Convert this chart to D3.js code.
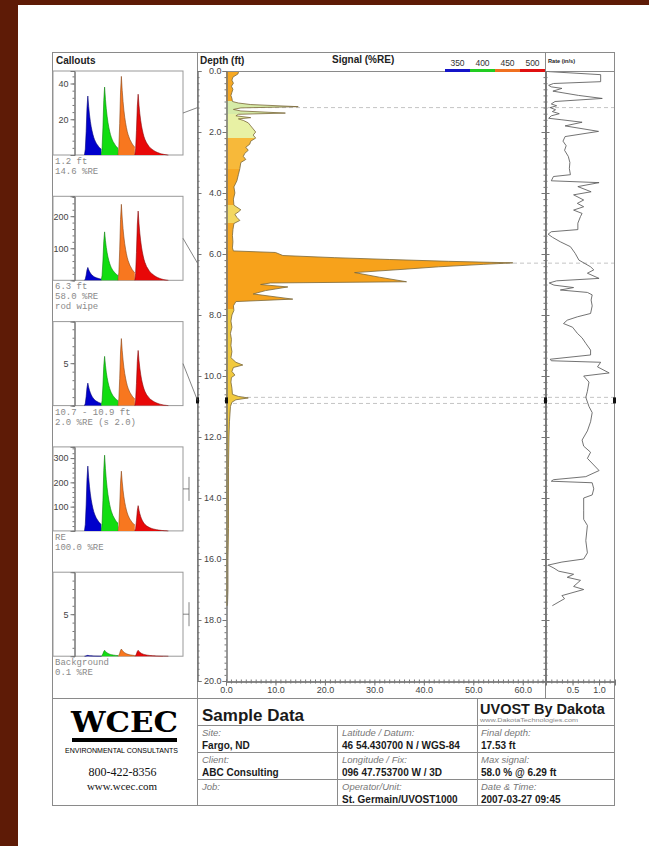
<!DOCTYPE html>
<html>
<head>
<meta charset="utf-8">
<script src="https://cdn.jsdelivr.net/npm/d3@7"></script>
<style>
  body { margin: 0; background: #fff; }
  svg { display: block; font-family: "Liberation Sans", Arial, sans-serif; }
</style>
</head>
<body>
<svg id="chart" width="649" height="846"></svg>
<script>
// signal log: depth (ft) and signal (%RE)
const sigDepth = [0, 0.1, 0.2, 0.3, 0.4, 0.5, 0.6, 0.7, 0.8, 0.9, 1.0, 1.05, 1.1, 1.17, 1.21, 1.26, 1.31, 1.38, 1.42, 1.47,
  1.53, 1.57, 1.62, 1.7, 1.8, 1.9, 2.0, 2.1, 2.2, 2.3, 2.4, 2.5, 2.6, 2.7, 2.8, 2.9, 3.0, 3.2, 3.4, 3.6,
  3.8, 4.0, 4.2, 4.4, 4.55, 4.62, 4.7, 4.8, 4.9, 5.0, 5.2, 5.4, 5.6, 5.8, 5.9, 5.95, 6.05, 6.12, 6.18, 6.24,
  6.29, 6.34, 6.42, 6.5, 6.61, 6.76, 6.91, 6.95, 7.0, 7.08, 7.2, 7.31, 7.48, 7.56, 7.7, 7.85, 8.0, 8.2, 8.4, 8.6,
  8.8, 9.0, 9.2, 9.4, 9.55, 9.64, 9.72, 9.85, 9.97, 10.05, 10.2, 10.4, 10.6, 10.67, 10.72, 10.78, 10.86, 11.0, 11.5, 12.0,
  13.0, 14.0, 15.0, 16.0, 17.0, 17.53];
const sigValue = [2.6, 2.4, 1.4, 1.2, 1.5, 1.1, 1.4, 1.2, 1.0, 1.2, 1.3, 2.5, 5, 14.6, 3, 1.5, 3, 12, 2.5, 2,
  5, 2.5, 3.5, 4.5, 5, 5.5, 6, 5.5, 6, 5, 4.8, 4, 4.5, 3.8, 3.5, 4, 3, 2.8, 2.5, 2.2,
  1.6, 1.8, 1.5, 1.6, 3, 2.5, 1.8, 2.2, 2.8, 1.6, 1.4, 1.3, 1.4, 1.3, 1.5, 10, 11.5, 22, 33, 45,
  58, 52, 43, 36, 26, 31, 36.5, 9, 7, 12.5, 8, 5.5, 13.5, 2, 1.5, 1.6, 1.2, 1.0, 1.2, 0.9,
  1.1, 1.0, 1.2, 1.0, 2, 3.4, 1.5, 1.2, 1.8, 1.1, 1.0, 1.2, 1.3, 2.5, 4.5, 2, 1.2, 0.9, 0.7, 0.6,
  0.5, 0.5, 0.5, 0.4, 0.4, 0.3];

// fill colour of the log by depth band (waveform mix)
const bandDepth = [0, 1.0, 1.4, 2.2, 3.2, 4.4, 5.0, 5.9, 7.8, 20];
const bandColor = ['#f6a823', '#d6eba8', '#e8f1a4', '#f7b93a', '#f6a823', '#f3d760', '#f6a823', '#f7a21b', '#f1c93e'];

// rate of penetration (in/s)
const rateDepth = [0, 0.02, 0.12, 0.35, 0.41, 0.47, 0.52, 0.57, 0.66, 0.8,
  0.9, 1.0, 1.08, 1.14, 1.2, 1.27, 1.33, 1.4, 1.47, 1.55,
  1.6, 1.68, 1.8, 1.98, 2.15, 2.3, 2.45, 2.6, 2.8, 3.0,
  3.2, 3.4, 3.46, 3.6, 3.66, 3.79, 3.96, 4.06, 4.23, 4.34,
  4.45, 4.56, 4.67, 4.77, 4.99, 5.2, 5.27, 5.35, 5.45, 5.6,
  5.76, 5.98, 6.2, 6.42, 6.52, 6.63, 6.8, 6.88, 6.95, 7.02,
  7.1, 7.18, 7.26, 7.34, 7.51, 7.7, 7.95, 8.06, 8.17, 8.28,
  8.4, 8.6, 8.75, 8.93, 9.15, 9.31, 9.45, 9.5, 9.55, 9.7,
  9.9, 10.0, 10.2, 10.5, 10.7, 11.0, 11.2, 11.5, 11.8, 12.1,
  12.3, 12.5, 12.7, 13.1, 13.3, 13.4, 13.45, 13.5, 13.7, 13.9,
  14.0, 14.4, 14.7, 14.9, 15.4, 15.8, 16.0, 16.1, 16.2, 16.3,
  16.4, 16.5, 16.6, 16.7, 16.9, 17.0, 17.2, 17.3, 17.53];
const rateValue = [0.04, 0.05, 1.03, 1.03, 0.14, 0.05, 0.1, 0.3, 0.13, 0.61,
  1.06, 0.17, 0.1, 0.2, 0.08, 0.18, 0.12, 0.25, 0.1, 0.05,
  0.3, 0.68, 0.36, 0.99, 0.36, 0.32, 0.38, 0.35, 0.42, 0.45,
  0.44, 0.46, 0.14, 0.1, 1.0, 0.6, 0.85, 0.52, 0.71, 0.59,
  0.71, 0.52, 0.68, 0.65, 0.6, 0.6, 0.1, 0.04, 0.12, 0.27,
  0.46, 0.55, 0.62, 0.84, 0.9, 0.78, 1.0, 0.2, 0.06, 0.15,
  0.52, 0.27, 0.78, 0.87, 0.85, 0.87, 0.84, 0.59, 0.4, 0.33,
  0.5, 0.59, 0.68, 0.75, 0.84, 0.84, 0.08, 0.1, 1.03, 0.97,
  1.19, 0.71, 0.81, 0.78, 0.75, 0.81, 0.87, 0.84, 0.78, 0.68,
  0.71, 0.84, 0.78, 1.0, 0.75, 0.14, 0.1, 0.87, 0.9, 0.87,
  0.71, 0.71, 0.71, 0.78, 0.75, 0.78, 0.71, 0.3, 0.04, 0.15,
  0.24, 0.52, 0.4, 0.65, 0.52, 0.71, 0.3, 0.35, 0.12];

// callout depths marked with dashed lines
const markDepths = [1.2, 6.3, 10.7, 10.9];
const selectDepth = 10.8;

// legend
const wavelengths = [350, 400, 450, 500];
const channelColors = ['#1414c8', '#22cc22', '#f07020', '#e01010'];
const pulseColors = ['#0000cc', '#11dd11', '#f8771f', '#e80808'];

// callout waveforms: peak height per channel, one entry per callout
const peakBlue = [33, 40, 2.65, 267, 0.1];
const peakGreen = [38, 151, 5.8, 312, 0.7];
const peakOrange = [44, 237, 7.9, 246, 0.85];
const peakRed = [34, 216, 6.5, 104, 0.7];
const calloutMax = [47, 262, 9.9, 346, 10];
const calloutTicks = [[20, 40], [100, 200], [5], [100, 200, 300], [5]];
const calloutDepth = [1.2, 6.3, 10.8, null, null];
const calloutNotes = [
  ['1.2 ft', '14.6 %RE'],
  ['6.3 ft', '58.0 %RE', 'rod wipe'],
  ['10.7 - 10.9 ft', '2.0 %RE (s 2.0)'],
  ['RE', '100.0 %RE'],
  ['Background', '0.1 %RE']
];
// channel delay (ns) and normalised pulse shape (1 ns steps)
const channelDelay = [12.5, 32.5, 52.5, 72.5];
const pulseShape = [0, 0.1, 0.4, 0.8, 1.0, 0.82, 0.68, 0.57, 0.48, 0.41, 0.35, 0.3, 0.26, 0.23, 0.2, 0.18,
  0.16, 0.14, 0.125, 0.11, 0.1, 0.09, 0.08, 0.07, 0.062, 0.055, 0.048, 0.042, 0.036, 0.031, 0.026, 0.022,
  0.018, 0.015, 0.012, 0.009, 0.007, 0.005, 0.003, 0.001, 0];

// footer table
const fieldLabels = [['Site:', 'Latitude / Datum:', 'Final depth:'],
  ['Client:', 'Longitude / Fix:', 'Max signal:'],
  ['Job:', 'Operator/Unit:', 'Date & Time:']];
const fieldValues = [['Fargo, ND', '46 54.430700 N / WGS-84', '17.53 ft'],
  ['ABC Consulting', '096 47.753700 W / 3D', '58.0 % @ 6.29 ft'],
  ['', 'St. Germain/UVOST1000', '2007-03-27 09:45']];

const svg = d3.select('#chart');
const fmt1 = d3.format('.1f');

// page background
svg.append('rect').attr('width', 649).attr('height', 846).attr('fill', '#fff');
svg.append('rect').attr('width', 18).attr('height', 846).attr('fill', '#5e1b06');
svg.append('rect').attr('width', 649).attr('height', 5).attr('fill', '#5e1b06');

// scales
const y = d3.scaleLinear().domain([0, 20]).range([71, 681]);
const x = d3.scaleLinear().domain([0, 64.5]).range([226, 545]);
const xr = d3.scaleLinear().domain([0, 1.3]).range([546, 615]);

// dashed callout lines (behind the fill)
svg.append('g').selectAll('line').data(markDepths).enter().append('line')
  .attr('x1', 226).attr('x2', 615)
  .attr('y1', d => y(d)).attr('y2', d => y(d))
  .attr('stroke', '#c4c4c4').attr('stroke-dasharray', '4,3');

// signal fill
const defs = svg.append('defs');
const grad = defs.append('linearGradient').attr('id', 'sigfill')
  .attr('gradientUnits', 'userSpaceOnUse')
  .attr('x1', 0).attr('x2', 0).attr('y1', y(0)).attr('y2', y(20));
bandColor.forEach((c, i) => {
  grad.append('stop').attr('offset', bandDepth[i] / 20).attr('stop-color', c);
  grad.append('stop').attr('offset', bandDepth[i + 1] / 20).attr('stop-color', c);
});

const sigData = sigDepth.map((d, i) => ({ depth: d, value: sigValue[i] }));
svg.append('path').datum(sigData)
  .attr('d', d3.area().y(d => y(d.depth)).x0(x(0)).x1(d => x(d.value)))
  .attr('fill', 'url(#sigfill)');
svg.append('path').datum(sigData)
  .attr('d', d3.line().y(d => y(d.depth)).x(d => x(d.value)))
  .attr('fill', 'none').attr('stroke', '#7a6738').attr('stroke-width', 0.8);

// rate trace
const rateData = rateDepth.map((d, i) => ({ depth: d, value: rateValue[i] }));
svg.append('path').datum(rateData)
  .attr('d', d3.line().y(d => y(d.depth)).x(d => xr(d.value)))
  .attr('fill', 'none').attr('stroke', '#5a5a5a').attr('stroke-width', 0.85);

// frame lines
const lineColor = '#8a8a8a';
function hline(x1, x2, yy, c) {
  svg.append('line').attr('x1', x1).attr('x2', x2).attr('y1', yy).attr('y2', yy)
    .attr('stroke', c || lineColor);
}
function vline(xx, y1, y2, c) {
  svg.append('line').attr('x1', xx).attr('x2', xx).attr('y1', y1).attr('y2', y2)
    .attr('stroke', c || lineColor);
}
svg.append('rect').attr('x', 52.5).attr('y', 52.5).attr('width', 562).attr('height', 753)
  .attr('fill', 'none').attr('stroke', lineColor);
vline(197.5, 52, 698);
vline(545.5, 52, 698);
hline(226, 615, 71.5);
hline(52, 615, 698.5);

// axes helper
function styleAxis(g) {
  g.select('.domain').attr('stroke', '#777');
  g.selectAll('.tick line').attr('stroke', '#777');
  g.selectAll('.tick text').attr('fill', '#444').style('font-size', '9px')
    .style('font-family', '"Liberation Sans", Arial, sans-serif');
}
const majorDepth = d3.range(0, 20.01, 2);
const minorDepth = d3.range(0, 20.01, 0.2);

// depth axis with labels
svg.append('g').attr('transform', 'translate(226.5,0)')
  .call(d3.axisLeft(y).tickValues(minorDepth).tickSize(2).tickFormat(''))
  .call(styleAxis);
svg.append('g').attr('transform', 'translate(226.5,0)')
  .call(d3.axisLeft(y).tickValues(majorDepth).tickSize(4).tickPadding(1).tickFormat(fmt1))
  .call(styleAxis);
// ticks on the column border and on the rate panel edge
svg.append('g').attr('transform', 'translate(197.5,0)')
  .call(d3.axisRight(y).tickValues(minorDepth).tickSize(2).tickFormat(''))
  .call(styleAxis);
svg.append('g').attr('transform', 'translate(197.5,0)')
  .call(d3.axisRight(y).tickValues(majorDepth).tickSize(4).tickFormat(''))
  .call(styleAxis);
[d3.axisLeft, d3.axisRight].forEach(ax => {
  svg.append('g').attr('transform', 'translate(545.5,0)')
    .call(ax(y).tickValues(minorDepth).tickSize(2).tickFormat(''))
    .call(styleAxis);
  svg.append('g').attr('transform', 'translate(545.5,0)')
    .call(ax(y).tickValues(majorDepth).tickSize(4).tickFormat(''))
    .call(styleAxis);
});

// signal x axis
svg.append('g').attr('transform', 'translate(0,681.5)')
  .call(d3.axisBottom(x).tickValues(d3.range(0, 64.5, 1)).tickSize(2).tickFormat(''))
  .call(styleAxis);
svg.append('g').attr('transform', 'translate(0,681.5)')
  .call(d3.axisBottom(x).tickValues(d3.range(0, 61, 10)).tickSize(4).tickPadding(1).tickFormat(fmt1))
  .call(styleAxis);
svg.append('g').attr('transform', 'translate(0,681.5)')
  .call(d3.axisTop(x).tickValues(d3.range(0, 64.5, 1)).tickSize(2).tickFormat(''))
  .call(styleAxis);
// rate x axis
svg.append('g').attr('transform', 'translate(0,681.5)')
  .call(d3.axisBottom(xr).tickValues(d3.range(0.1, 1.3, 0.1)).tickSize(2).tickFormat(''))
  .call(styleAxis);
svg.append('g').attr('transform', 'translate(0,681.5)')
  .call(d3.axisBottom(xr).tickValues([0.5, 1.0]).tickSize(4).tickPadding(1).tickFormat(fmt1))
  .call(styleAxis);
svg.append('g').attr('transform', 'translate(0,681.5)')
  .call(d3.axisTop(xr).tickValues(d3.range(0.1, 1.3, 0.1)).tickSize(2).tickFormat(''))
  .call(styleAxis);

// selected-depth markers
[197.5, 226.5, 545.5, 614.5].forEach(xx => {
  svg.append('rect').attr('x', xx - 1.5).attr('y', y(selectDepth) - 3)
    .attr('width', 3).attr('height', 6).attr('fill', '#111');
});

// headers
function label(t, xx, yy, size, weight, anchor) {
  return svg.append('text').attr('x', xx).attr('y', yy).text(t)
    .style('font-size', size + 'px').style('font-weight', weight || 'normal')
    .attr('text-anchor', anchor || 'start').attr('fill', '#222');
}
label('Callouts', 56, 64, 10, 'bold');
label('Depth (ft)', 200, 64, 10, 'bold');
label('Signal (%RE)', 332, 63, 10, 'bold');
label('Rate (in/s)', 548, 63, 5.6, 'bold');

// legend
const lx = d3.scaleBand().domain(wavelengths).range([445, 545]);
svg.append('g').selectAll('rect').data(wavelengths).enter().append('rect')
  .attr('x', d => lx(d)).attr('y', 69).attr('width', lx.bandwidth()).attr('height', 3)
  .attr('fill', (d, i) => channelColors[i]);
svg.append('g').selectAll('text').data(wavelengths).enter().append('text')
  .attr('x', d => lx(d) + lx.bandwidth() / 2).attr('y', 66)
  .attr('text-anchor', 'middle').attr('fill', '#333').style('font-size', '8.5px')
  .text(d => d);

// callouts
const cx = d3.scaleLinear().domain([0, 130]).range([74, 183]);
const peaks = [peakBlue, peakGreen, peakOrange, peakRed];
calloutMax.forEach((m, i) => {
  const top = 71 + i * 125.3;
  const bottom = top + 84;
  const cy = d3.scaleLinear().domain([0, m]).range([bottom, top]);
  const g = svg.append('g');
  g.append('rect').attr('x', 53).attr('y', top).attr('width', 130).attr('height', 84)
    .attr('fill', '#fff').attr('stroke', '#999');

  peaks.forEach((p, c) => {
    const len = c === 3 ? pulseShape.length : 21;
    const pts = pulseShape.slice(0, len).map((s, k) => [channelDelay[c] + k, s * p[i]]);
    g.append('path').datum(pts)
      .attr('d', d3.area().x(d => cx(d[0])).y0(bottom).y1(d => cy(d[1])))
      .attr('fill', pulseColors[c]);
    g.append('path').datum(pts)
      .attr('d', d3.line().x(d => cx(d[0])).y(d => cy(d[1])))
      .attr('fill', 'none').attr('stroke', d3.color(pulseColors[c]).darker(1.6))
      .attr('stroke-width', 0.6);
  });

  const yAxisG = g.append('g').attr('transform', 'translate(74.5,0)');
  const minor = d3.range(0, m, calloutTicks[i][0] / 5);
  yAxisG.call(d3.axisLeft(cy).tickValues(minor).tickSize(2).tickFormat('')).call(styleAxis);
  g.append('g').attr('transform', 'translate(74.5,0)')
    .call(d3.axisLeft(cy).tickValues(calloutTicks[i]).tickSize(4).tickPadding(2).tickFormat(d3.format('d')))
    .call(styleAxis);

  calloutNotes[i].forEach((t, k) => {
    g.append('text').attr('x', 55).attr('y', bottom + 9 + k * 10).text(t)
      .style('font-family', '"Liberation Mono", "Courier New", monospace')
      .style('font-size', '9px').attr('fill', '#8a8a8a');
  });

  const mid = (top + bottom) / 2;
  if (calloutDepth[i] !== null) {
    g.append('line').attr('x1', 183).attr('y1', mid).attr('x2', 197.5).attr('y2', y(calloutDepth[i]))
      .attr('stroke', '#666').attr('stroke-width', 0.8);
  } else {
    g.append('line').attr('x1', 183).attr('x2', 189).attr('y1', mid).attr('y2', mid)
      .attr('stroke', '#666').attr('stroke-width', 0.8);
    g.append('line').attr('x1', 189).attr('x2', 189).attr('y1', mid - 12).attr('y2', mid + 12)
      .attr('stroke', '#666').attr('stroke-width', 0.8);
  }
});

// footer table
hline(197, 615, 725.5);
hline(197, 615, 752.5);
hline(197, 615, 779.5);
vline(197.5, 698, 806);
vline(337.5, 725, 806);
vline(477.5, 698, 806);

const colX = [202, 342, 481];
fieldLabels.forEach((row, r) => {
  row.forEach((t, c) => {
    svg.append('text').attr('x', colX[c]).attr('y', 736 + r * 27).text(t)
      .style('font-size', '9.5px').style('font-style', 'italic').attr('fill', '#777');
    svg.append('text').attr('x', colX[c]).attr('y', 749 + r * 27).text(fieldValues[r][c])
      .style('font-size', '10px').style('font-weight', 'bold').attr('fill', '#1a1a1a');
  });
});
label('Sample Data', 202, 721, 17, 'bold').attr('fill', '#1a1a1a');
label('UVOST By Dakota', 480, 714, 14.5, 'bold').attr('fill', '#1a1a1a');
label('www.DakotaTechnologies.com', 480, 722, 5.5).attr('fill', '#888')
  .attr('textLength', 98).attr('lengthAdjust', 'spacingAndGlyphs');

// WCEC logo
svg.append('text').attr('x', 124.5).attr('y', 732).attr('text-anchor', 'middle').text('WCEC')
  .style('font-family', '"DejaVu Serif", "Liberation Serif", serif').style('font-weight', 'bold')
  .style('font-size', '27px').attr('fill', '#000')
  .attr('textLength', 107).attr('lengthAdjust', 'spacingAndGlyphs');
svg.append('rect').attr('x', 72).attr('y', 738).attr('width', 105).attr('height', 4).attr('fill', '#000');
svg.append('text').attr('x', 121.5).attr('y', 753).attr('text-anchor', 'middle').text('ENVIRONMENTAL CONSULTANTS')
  .style('font-size', '7.5px').attr('fill', '#000')
  .attr('textLength', 113).attr('lengthAdjust', 'spacingAndGlyphs');
svg.append('text').attr('x', 122.5).attr('y', 776).attr('text-anchor', 'middle').text('800-422-8356')
  .style('font-family', '"Liberation Serif", "Times New Roman", serif').style('font-size', '12px').attr('fill', '#111');
svg.append('text').attr('x', 122).attr('y', 790).attr('text-anchor', 'middle').text('www.wcec.com')
  .style('font-family', '"Liberation Serif", "Times New Roman", serif').style('font-size', '11px').attr('fill', '#111');
</script>
</body>
</html>
